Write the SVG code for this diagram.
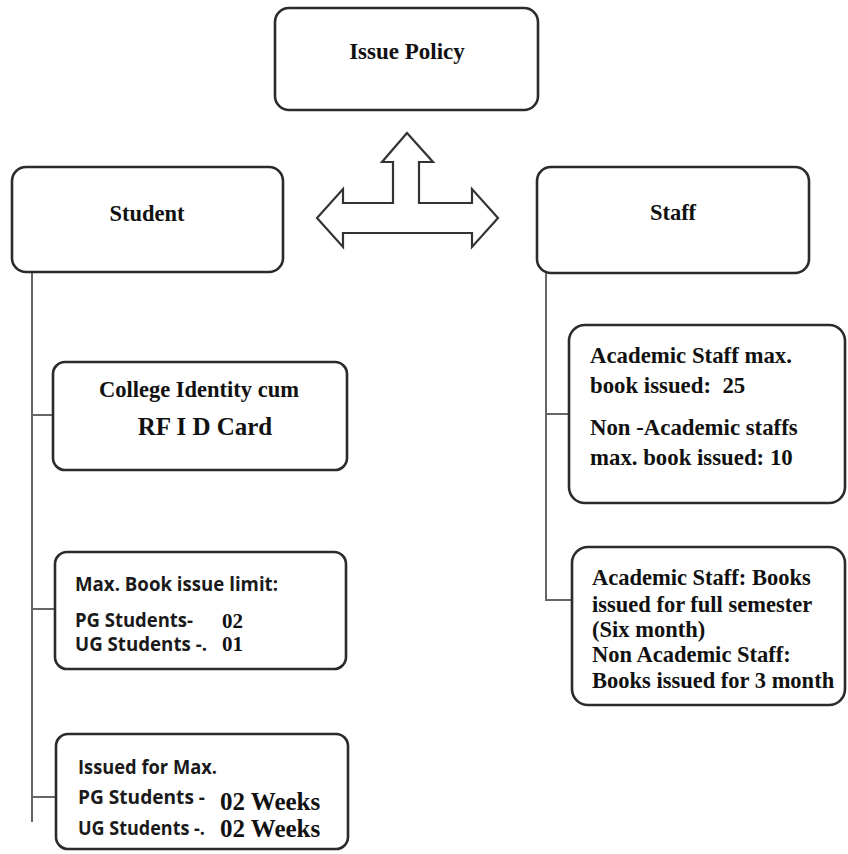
<svg xmlns="http://www.w3.org/2000/svg" width="848" height="854" viewBox="0 0 848 854">
<style>
.box{fill:#fff;stroke:#2b2b2b;stroke-width:2.6}
.conn{fill:none;stroke:#666;stroke-width:2}
.arrow{fill:#fff;stroke:#333;stroke-width:2.2;stroke-linejoin:miter}
.t{font-family:"Liberation Serif","Times New Roman",serif;font-weight:bold;fill:#111}
.s{font-family:"Open Sans","Noto Sans",sans-serif;font-weight:bold;fill:#1a1a1a}
</style>
<rect width="848" height="854" fill="#fff"/>
<g id="connectors">
<path class="conn" d="M32 272 V822 M32 415 H53 M32 609 H55 M32 797 H56"/>
<path class="conn" d="M546 273 V600 H572 M546 414 H569"/>
<polygon class="arrow" points="407,133 433,162 419,162 419,203 472,203 472,189 498,218 472,247 472,233 343,233 343,247 317,218 343,189 343,203 393,203 393,162 382,162"/>
</g>
<g id="issue-policy">
<rect class="box" x="275" y="8" width="263" height="102" rx="14"/>
<text class="t" x="407" y="59" font-size="23" text-anchor="middle">Issue Policy</text>
</g>
<g id="student">
<rect class="box" x="12" y="167" width="271" height="105" rx="14"/>
<text class="t" x="147" y="221" font-size="22.5" text-anchor="middle">Student</text>
</g>
<g id="staff">
<rect class="box" x="537" y="167" width="272" height="106" rx="14"/>
<text class="t" x="673" y="220" font-size="22.5" text-anchor="middle">Staff</text>
</g>
<g id="id-card">
<rect class="box" x="53" y="362" width="294" height="108" rx="12"/>
<text class="t" x="199" y="397" font-size="22.5" text-anchor="middle">College Identity cum</text>
<text class="t" x="205" y="435" font-size="25" text-anchor="middle">RF I D Card</text>
</g>
<g id="issue-limit">
<rect class="box" x="55" y="552" width="291" height="117" rx="12"/>
<text class="s" x="75" y="591" font-size="19" textLength="203" lengthAdjust="spacingAndGlyphs">Max. Book issue limit:</text>
<text class="s" x="75" y="627" font-size="19" textLength="118" lengthAdjust="spacingAndGlyphs">PG Students-</text>
<text class="t" x="222" y="628" font-size="21">02</text>
<text class="s" x="75" y="651" font-size="19" textLength="132" lengthAdjust="spacingAndGlyphs">UG Students -.</text>
<text class="t" x="222" y="651" font-size="21">01</text>
</g>
<g id="issue-period">
<rect class="box" x="56" y="734" width="292" height="115" rx="12"/>
<text class="s" x="78" y="774" font-size="20" textLength="139" lengthAdjust="spacingAndGlyphs">Issued for Max.</text>
<text class="s" x="78" y="804" font-size="20" textLength="127" lengthAdjust="spacingAndGlyphs">PG Students -</text>
<text class="t" x="220" y="810" font-size="25">02 Weeks</text>
<text class="s" x="78" y="835" font-size="20" textLength="127" lengthAdjust="spacingAndGlyphs">UG Students -.</text>
<text class="t" x="220" y="837" font-size="25">02 Weeks</text>
</g>
<g id="staff-limit">
<rect class="box" x="569" y="325" width="276" height="178" rx="16"/>
<text class="t" x="590" y="363" font-size="22.8">Academic Staff max.</text>
<text class="t" x="590" y="393" font-size="22.8" xml:space="preserve">book issued:  25</text>
<text class="t" x="590" y="435" font-size="22.8">Non -Academic staffs</text>
<text class="t" x="590" y="465" font-size="22.8">max. book issued: 10</text>
</g>
<g id="staff-period">
<rect class="box" x="572" y="547" width="273" height="158" rx="16"/>
<text class="t" x="592" y="585" font-size="22.5">Academic Staff: Books</text>
<text class="t" x="592" y="612" font-size="22.5">issued for full semester</text>
<text class="t" x="592" y="637" font-size="22.5">(Six month)</text>
<text class="t" x="592" y="662" font-size="22.5">Non Academic Staff:</text>
<text class="t" x="592" y="688" font-size="22.5">Books issued for 3 month</text>
</g>
</svg>
